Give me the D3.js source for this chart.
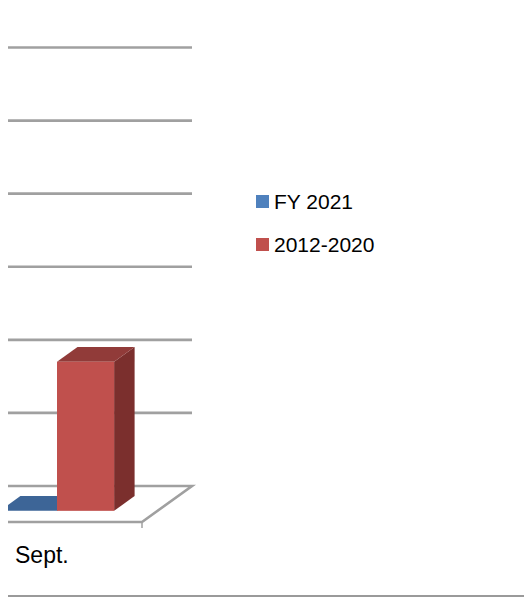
<!DOCTYPE html>
<html>
<head>
<meta charset="utf-8">
<script src="https://cdn.jsdelivr.net/npm/d3@7"></script>
<style>
  html, body { margin: 0; padding: 0; background: #fff; }
  svg { display: block; }
</style>
</head>
<body>
<div id="chart"></div>
<script>
// data
const categories = ["Sept."];
const seriesNames = ["FY 2021", "2012-2020"];
const fy2021 = [0];
const hist = [20.4];
const yTicks = [0, 10, 20, 30, 40, 50, 60];

const colors = {
  "FY 2021":   { front: "#4f81bd", top: "#3d6597", side: "#345680" },
  "2012-2020": { front: "#c0504d", top: "#913b39", side: "#7b2f2d" }
};

const width = 524, height = 599;
const DX = 50, DY = 36;          // oblique depth offset, front -> back
const floorFront = 522;           // y of floor front edge
const d0 = 0.31, d1 = 0.72;       // bar depth slice

const svg = d3.select("#chart").append("svg")
  .attr("width", width)
  .attr("height", height);

// value scale lives on the back wall (depth 1)
const y = d3.scaleLinear().domain([0, 60]).range([floorFront - DY, 47.5]);

// front-plane x for categories, then series inside
const x0 = d3.scaleBand().domain(categories).range([-59, 142]).paddingOuter(0.38).paddingInner(0);
const x1 = d3.scaleBand().domain(seriesNames).range([0, x0.bandwidth()]);

// screen point from front-plane x, value, depth
const proj = (xf, v, d) => [xf + d * DX, y(v) + (1 - d) * DY];

svg.append("defs").append("clipPath").attr("id", "plot")
  .append("rect").attr("x", 8).attr("y", 0).attr("width", width).attr("height", 540);

const plot = svg.append("g").attr("clip-path", "url(#plot)");

const gridStroke = "#a0a0a0";

// back wall gridlines
plot.selectAll("line.grid")
  .data(yTicks.slice(1))
  .enter().append("line")
  .attr("class", "grid")
  .attr("x1", 8).attr("x2", proj(142, 0, 1)[0])
  .attr("y1", d => y(d)).attr("y2", d => y(d))
  .attr("stroke", gridStroke)
  .attr("stroke-width", 2.6);

// floor
const floorPts = [proj(-80, 0, 1), proj(142, 0, 1), proj(142, 0, 0), proj(-80, 0, 0)];
plot.append("polygon")
  .attr("points", floorPts.map(p => p.join(",")).join(" "))
  .attr("fill", "#fff")
  .attr("stroke", gridStroke)
  .attr("stroke-width", 2.6)
  .attr("stroke-linejoin", "miter");

// tick below the front right corner
svg.append("line")
  .attr("x1", 142).attr("x2", 142)
  .attr("y1", floorFront).attr("y2", floorFront + 6)
  .attr("stroke", gridStroke)
  .attr("stroke-width", 1.5);

// bars
const bars = [];
categories.forEach((c, i) => {
  bars.push({ cat: c, name: "FY 2021", value: fy2021[i] });
  bars.push({ cat: c, name: "2012-2020", value: hist[i] });
});

const poly = pts => pts.map(p => p.join(",")).join(" ");

const barG = plot.selectAll("g.bar")
  .data(bars)
  .enter().append("g")
  .attr("class", "bar");

barG.each(function (b) {
  const g = d3.select(this);
  const xl = x0(b.cat) + x1(b.name);
  const xr = xl + x1.bandwidth();
  const col = colors[b.name];
  // right side
  g.append("polygon")
    .attr("points", poly([proj(xr, 0, d0), proj(xr, 0, d1), proj(xr, b.value, d1), proj(xr, b.value, d0)]))
    .attr("fill", col.side);
  // top
  g.append("polygon")
    .attr("points", poly([proj(xl, b.value, d0), proj(xr, b.value, d0), proj(xr, b.value, d1), proj(xl, b.value, d1)]))
    .attr("fill", col.top);
  // front
  const [fx, fy] = proj(xl, b.value, d0);
  const [, by] = proj(xl, 0, d0);
  g.append("rect")
    .attr("x", fx).attr("y", fy)
    .attr("width", x1.bandwidth())
    .attr("height", Math.max(0, by - fy))
    .attr("fill", col.front);
});

// category label
svg.append("text")
  .attr("x", 15).attr("y", 563)
  .attr("font-family", "'Liberation Sans', Arial, sans-serif")
  .attr("font-size", 23)
  .attr("fill", "#000")
  .text(categories[0]);

// legend
const legend = svg.append("g").attr("transform", "translate(256,195)");
const item = legend.selectAll("g")
  .data(seriesNames)
  .enter().append("g")
  .attr("transform", (d, i) => `translate(0,${i * 43})`);
item.append("rect")
  .attr("width", 13).attr("height", 13)
  .attr("fill", d => colors[d].front);
item.append("text")
  .attr("x", 18).attr("y", 14)
  .attr("font-family", "'Liberation Sans', Arial, sans-serif")
  .attr("font-size", 21)
  .attr("fill", "#000")
  .text(d => d);

// outer bottom rule
svg.append("line")
  .attr("x1", 8).attr("x2", width)
  .attr("y1", 596).attr("y2", 596)
  .attr("stroke", "#9a9a9a")
  .attr("stroke-width", 2);
</script>
</body>
</html>
